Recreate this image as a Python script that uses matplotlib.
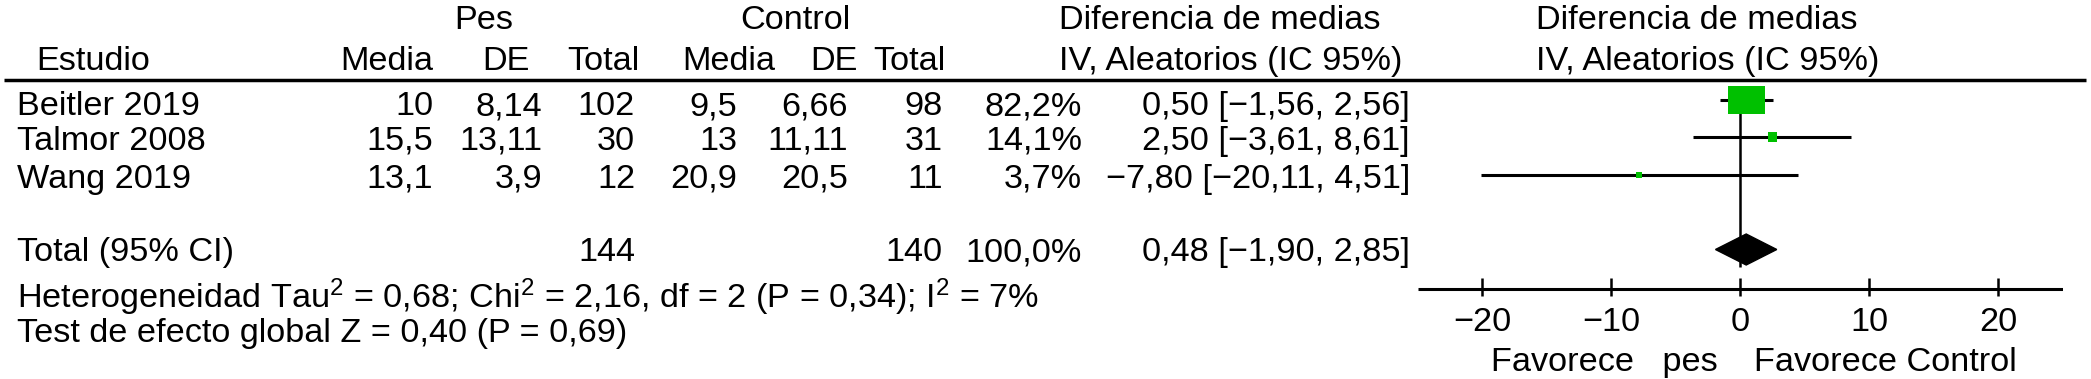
import matplotlib
matplotlib.use('Agg')
import matplotlib.pyplot as plt
from matplotlib.patches import Rectangle, Polygon

plt.rcParams['font.family'] = 'Liberation Sans'
plt.rcParams['mathtext.fontset'] = 'custom'
plt.rcParams['mathtext.rm'] = 'Liberation Sans'
plt.rcParams['mathtext.it'] = 'Liberation Sans:italic'

# datos del forest plot
estudios = ['Beitler 2019', 'Talmor 2008', 'Wang 2019']
pes_media = [10, 15.5, 13.1]
pes_de = [8.14, 13.11, 3.9]
pes_total = [102, 30, 12]
control_media = [9.5, 13, 20.9]
control_de = [6.66, 11.11, 20.5]
control_total = [98, 31, 11]
pesos = [82.2, 14.1, 3.7]
dif_medias = [0.50, 2.50, -7.80]
ic_inf = [-1.56, -3.61, -20.11]
ic_sup = [2.56, 8.61, 4.51]

total_pes = 144
total_control = 140
total_peso = 100.0
total_dif = 0.48
total_inf = -1.90
total_sup = 2.85

tau2, chi2, gl, p_het, i2 = 0.68, 2.16, 2, 0.34, 7
z, p_z = 0.40, 0.69

marcas = [-20, -10, 0, 10, 20]


def num(v, dec=None):
    s = f'{v:.{dec}f}' if dec is not None else f'{v:g}'
    return s.replace('-', '\u2212').replace('.', ',')


W, H = 2091, 379
fig = plt.figure(figsize=(W / 100, H / 100), dpi=100)

# tabla en coordenadas de pixel
tabla = fig.add_axes([0, 0, 1, 1])
tabla.set_xlim(0, W)
tabla.set_ylim(H, 0)
tabla.axis('off')

fs = 24.7


def txt(x, y, s, ha='right'):
    tabla.text(x, y, s, ha=ha, va='baseline', fontsize=fs, color='black')


# cabeceras
txt(484, 29, 'Pes', 'center')
txt(795, 29, 'Control', 'center')
txt(1059, 29, 'Diferencia de medias', 'left')
txt(1536, 29, 'Diferencia de medias', 'left')

txt(36, 70, 'Estudio', 'left')
for x, s in [(433, 'Media'), (530, 'DE'), (640, 'Total'),
             (775, 'Media'), (858, 'DE'), (945, 'Total')]:
    txt(x, 70, s)
txt(1059, 70, 'IV, Aleatorios (IC 95%)', 'left')
txt(1536, 70, 'IV, Aleatorios (IC 95%)', 'left')

tabla.plot([4, 2086], [80, 80], color='black', lw=2.5, solid_capstyle='butt')

# filas de estudios
base_filas = [115, 150, 188]
for i, y in enumerate(base_filas):
    txt(17, y, estudios[i], 'left')
    txt(433, y, num(pes_media[i]))
    txt(542, y, num(pes_de[i]))
    txt(635, y, str(pes_total[i]))
    txt(737, y, num(control_media[i]))
    txt(848, y, num(control_de[i]))
    txt(943, y, str(control_total[i]))
    txt(1082, y, num(pesos[i], 1) + '%')
    txt(1410, y, f'{num(dif_medias[i], 2)} [{num(ic_inf[i], 2)}, {num(ic_sup[i], 2)}]')

# total
txt(17, 261, 'Total (95% CI)', 'left')
txt(635, 261, str(total_pes))
txt(943, 261, str(total_control))
txt(1082, 261, num(total_peso, 1) + '%')
txt(1410, 261, f'{num(total_dif, 2)} [{num(total_inf, 2)}, {num(total_sup, 2)}]')

txt(17, 308, f'Heterogeneidad Tau$^2$ = {num(tau2, 2)}; Chi$^2$ = {num(chi2, 2)}, '
             f'df = {gl} (P = {num(p_het, 2)}); I$^2$ = {i2}%', 'left')
txt(17, 342, f'Test de efecto global Z = {num(z, 2)} (P = {num(p_z, 2)})', 'left')

txt(1491, 371, 'Favorece   pes', 'left')
txt(1754, 371, 'Favorece Control', 'left')

# forest plot: -25..25 ocupa de 1417.5 a 2062.5 px
x0, x1 = 1417.5, 2062.5
bosque = fig.add_axes([x0 / W, 0, (x1 - x0) / W, 1])
bosque.set_xlim(-25, 25)
bosque.set_ylim(H, 0)
bosque.axis('off')
px = (x1 - x0) / 50  # pixeles por unidad

filas_y = [100, 137, 175]
bosque.vlines(0, 88, 267, color='black', lw=1.8, zorder=1)
bosque.hlines(filas_y, ic_inf, ic_sup, color='black', lw=2.2, zorder=2)
for i, y in enumerate(filas_y):
    f = pesos[i] / max(pesos)
    ancho = max(6, 37 * f ** 0.78) / px
    alto = max(6, 28 * f ** 0.62)
    bosque.add_patch(Rectangle((dif_medias[i] - ancho / 2, y - alto / 2), ancho, alto,
                               facecolor='#00c000', edgecolor='none', zorder=3))

yd = 249.5
bosque.add_patch(Polygon([(total_inf, yd), (total_dif, yd - 15.5),
                          (total_sup, yd), (total_dif, yd + 15.5)],
                         closed=True, facecolor='black', edgecolor='black', zorder=3))

# eje
bosque.hlines(288.5, -25, 25, color='black', lw=2.2)
bosque.vlines(marcas, 278, 296, color='black', lw=1.8)
for t in marcas:
    bosque.text(t, 331, num(t), ha='center', va='baseline', fontsize=fs)

fig.savefig('out.png', dpi=100, facecolor='white')
